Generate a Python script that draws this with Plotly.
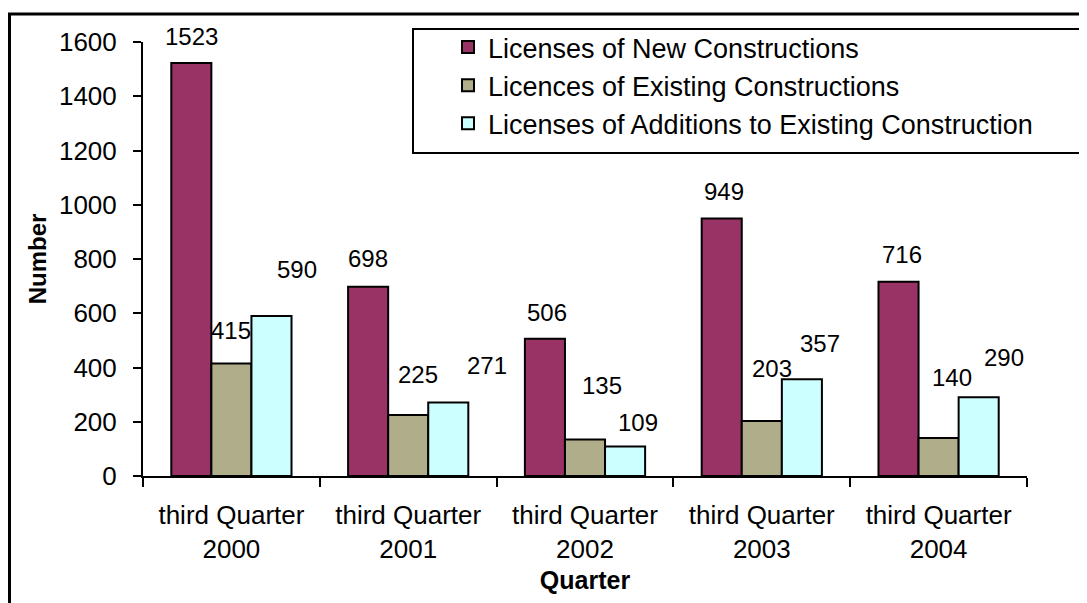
import plotly.graph_objects as go

quarters = [
    "third Quarter<br>2000",
    "third Quarter<br>2001",
    "third Quarter<br>2002",
    "third Quarter<br>2003",
    "third Quarter<br>2004",
]
new_constructions = [1523, 698, 506, 949, 716]
existing_constructions = [415, 225, 135, 203, 140]
additions = [590, 271, 109, 357, 290]

series_names = [
    "Licenses of New Constructions",
    "Licences of Existing Constructions",
    "Licenses of Additions to Existing Construction",
]
series_colors = ["#993366", "#b0ae8a", "#ccffff"]

# label nudges in px (extra horizontal shift, height above bar top), as placed in the original
label_dx = [[0, 0, 2, 2, 3], [0, 10, 17, 10, 13], [26, 39, 13, 18, 25]]
label_dy = [[26, 28, 26, 27, 27], [33, 40, 54, 52, 61], [46, 37, 24, 36, 40]]

W, H = 1087, 603
OFF = 8  # page body margin around the figure
L, R, T, B = 135, 68, 34, 135
plot_w, plot_h = W - L - R, H - T - B
BARGAP = 0.32
FONT = "Liberation Sans, Arial, sans-serif"


def px_x(x):
    # page pixel -> paper fraction
    return (x - OFF - L) / plot_w


def px_y(y):
    return (H - B - (y - OFF)) / plot_h


fig = go.Figure()
all_values = [new_constructions, existing_constructions, additions]
for k, (name, values, color) in enumerate(zip(series_names, all_values, series_colors)):
    fig.add_trace(
        go.Bar(
            x=quarters,
            y=values,
            name=name,
            legendgroup=f"g{k}",
            marker=dict(color=color, line=dict(color="black", width=2)),
            hoverinfo="x+y",
        )
    )

cat_px = plot_w / len(quarters)
bar_px = cat_px * (1 - BARGAP) / 3
annotations = []
for s, values in enumerate(all_values):
    for i, v in enumerate(values):
        annotations.append(
            dict(
                x=quarters[i],
                y=v,
                text=str(v),
                showarrow=False,
                xshift=(s - 1) * bar_px + label_dx[s][i],
                yshift=label_dy[s][i],
                yanchor="middle",
                font=dict(size=24, color="black", family=FONT),
            )
        )

shapes = [
    # outer chart frame (cut by the image edges)
    dict(type="rect", xref="paper", yref="paper",
         x0=px_x(OFF + 1.5), x1=px_x(1120), y0=px_y(640), y1=px_y(14),
         line=dict(color="black", width=3), fillcolor="rgba(0,0,0,0)", layer="below"),
    # legend box
    dict(type="rect", xref="paper", yref="paper",
         x0=px_x(413), x1=px_x(1120), y0=px_y(153), y1=px_y(29),
         line=dict(color="black", width=2), fillcolor="white", layer="above"),
]

fig.update_layout(
    width=W,
    height=H,
    margin=dict(l=L, r=R, t=T, b=B),
    paper_bgcolor="white",
    plot_bgcolor="white",
    barmode="group",
    bargap=BARGAP,
    bargroupgap=0,
    font=dict(family=FONT, size=26, color="black"),
    showlegend=True,
    legend=dict(
        x=px_x(448),
        y=px_y(23),
        xanchor="left",
        yanchor="top",
        bgcolor="rgba(0,0,0,0)",
        borderwidth=0,
        font=dict(size=27, family=FONT),
        traceorder="normal",
        tracegroupgap=6,
    ),
    annotations=annotations,
    shapes=shapes,
)
fig.update_xaxes(
    showline=True,
    linecolor="black",
    linewidth=2,
    ticks="outside",
    tickson="boundaries",
    ticklen=9,
    tickwidth=2,
    tickcolor="black",
    showgrid=False,
    tickfont=dict(size=26, family=FONT),
    ticklabelstandoff=15,
    title=dict(text="<b>Quarter</b>", font=dict(size=25, family=FONT), standoff=8),
)
fig.update_yaxes(
    range=[0, 1600],
    dtick=200,
    showline=True,
    linecolor="black",
    linewidth=2,
    ticks="outside",
    ticklen=8,
    tickwidth=2,
    tickcolor="black",
    showgrid=False,
    zeroline=False,
    tickfont=dict(size=26, family=FONT),
    ticklabelstandoff=11,
    title=dict(text="<b>Number</b>", font=dict(size=24, family=FONT), standoff=6),
)

fig.write_html("out.html")
